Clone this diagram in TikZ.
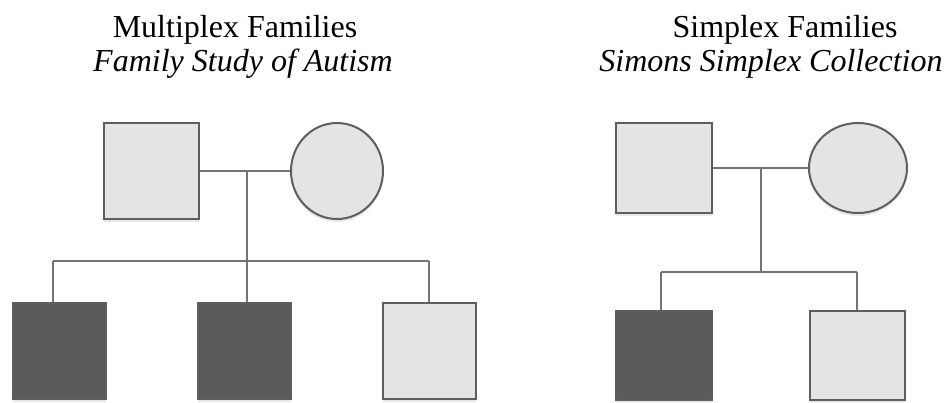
\documentclass[tikz,border=0pt]{standalone}
\usepackage{fontspec}
\setmainfont{Liberation Serif}
\usetikzlibrary{shadows,shapes.geometric}
\definecolor{lightfill}{HTML}{E4E4E4}
\definecolor{darkfill}{HTML}{5A5A5A}
\definecolor{edge}{HTML}{5E5E5E}
\definecolor{wire}{HTML}{747474}
\begin{document}
\begin{tikzpicture}[x=1pt,y=-1pt,
  person/.style={draw=edge, line width=2pt, inner sep=0pt,
    drop shadow={opacity=0.18, shadow xshift=0pt, shadow yshift=-3pt}},
  male/.style={person, rectangle, minimum width=#1, minimum height=#1},
  malebox/.style 2 args={person, rectangle, minimum width=#1, minimum height=#2},
  female/.style 2 args={person, ellipse, minimum width=#1, minimum height=#2},
  unaff/.style={fill=lightfill},
  aff/.style={fill=darkfill},
  wire/.style={draw=wire, line width=2pt},
  title/.style={font=\fontsize{32}{38}\selectfont, anchor=base, inner sep=0pt},
  subtitle/.style={font=\fontsize{32}{38}\selectfont\itshape, anchor=base, inner sep=0pt}]
\useasboundingbox (0,0) rectangle (950,402);

% titles
\node[title] (t1) at (235,37) {Multiplex Families};
\node[subtitle] (t2) at (243,71) {Family Study of Autism};
\node[title] (t3) at (785,37) {Simplex Families};
\node[subtitle] (t4) at (771,71) {Simons Simplex Collection};

% ---------- Multiplex family ----------
\node[malebox={95}{96}, unaff] (mf) at (151.5,171) {};
\node[female={92}{96}, unaff] (mm) at (337,171) {};
\coordinate (mj) at (247,171);
\coordinate (ms) at (247,261);
\coordinate (msl) at (53,261);
\coordinate (msr) at (429,261);
\node[malebox={93}{96}, aff] (mc1) at (59.5,351) {};
\node[malebox={93}{96}, aff] (mc2) at (244,351) {};
\node[malebox={93}{96}, unaff] (mc3) at (429,351) {};

\draw[wire] (mf.east) -- (mm.west);
\draw[wire] (mj) -- (ms);
\draw[wire] (msl) -- (msr);
\draw[wire] (msl) -- (msl |- mc1.north);
\draw[wire] (ms) -- (ms |- mc2.north);
\draw[wire] (msr) -- (msr |- mc3.north);

% ---------- Simplex family ----------
\node[malebox={96}{90}, unaff] (sf) at (664,168) {};
\node[female={98}{90}, unaff] (sm) at (858,168) {};
\coordinate (sj) at (761,168);
\coordinate (ss) at (761,272);
\coordinate (ssl) at (661,272);
\coordinate (ssr) at (857,272);
\node[malebox={96}{89}, aff] (sc1) at (664,355.5) {};
\node[malebox={95}{89}, unaff] (sc2) at (857.5,355.5) {};

\draw[wire] (sf.east) -- (sm.west);
\draw[wire] (sj) -- (ss);
\draw[wire] (ssl) -- (ssr);
\draw[wire] (ssl) -- (ssl |- sc1.north);
\draw[wire] (ssr) -- (ssr |- sc2.north);
\end{tikzpicture}
\end{document}
